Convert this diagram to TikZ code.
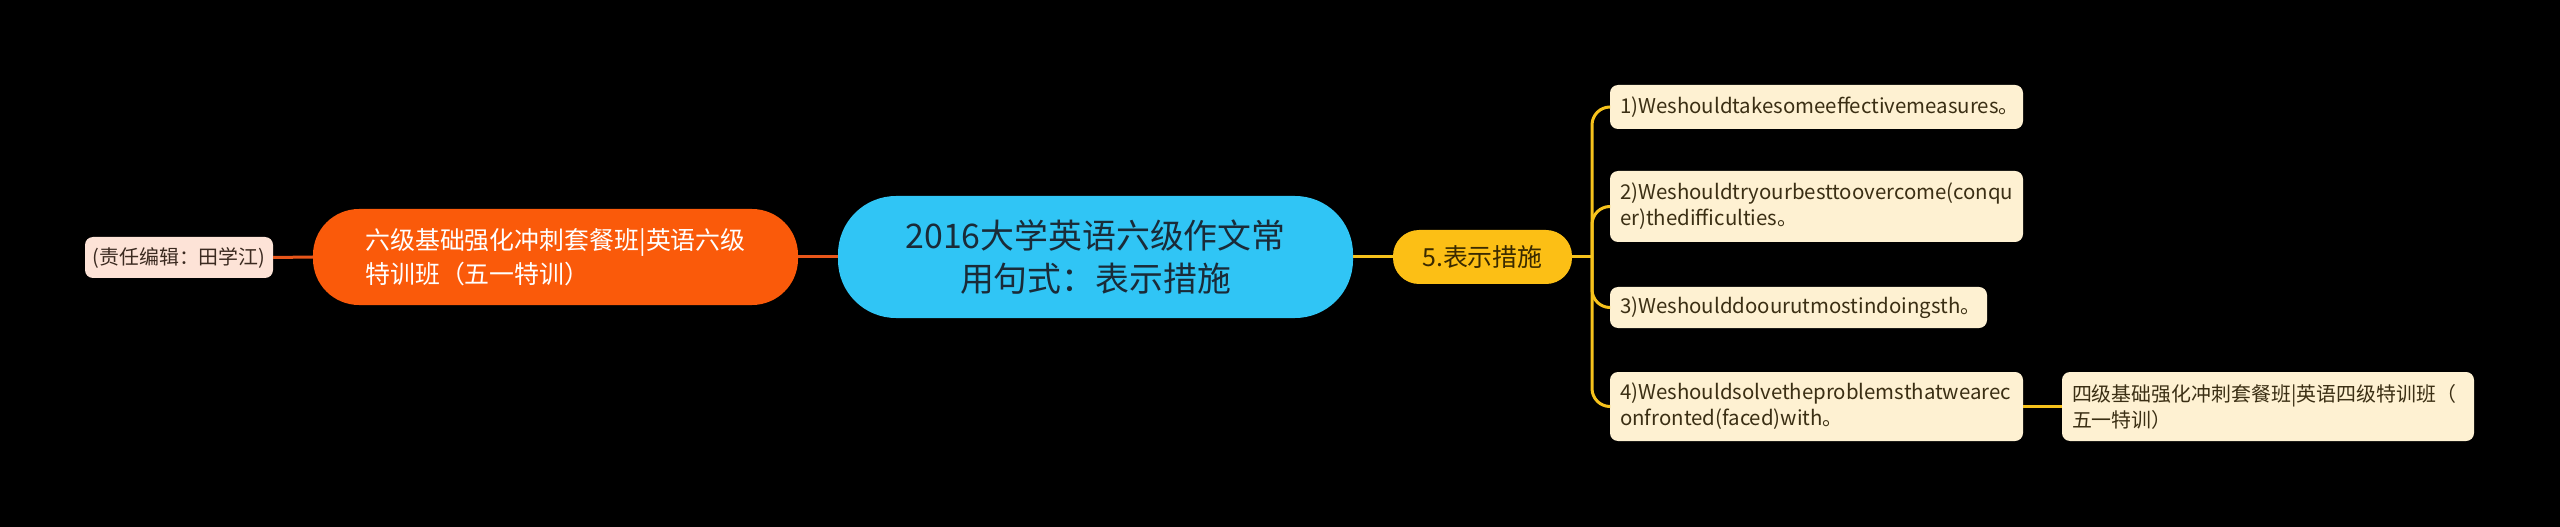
\documentclass[tikz,border=0pt]{standalone}
\usepackage{fontspec}
\setmainfont{Noto Sans CJK SC}
\definecolor{centerfill}{HTML}{30C5F5}
\definecolor{centertext}{HTML}{1A2B38}
\definecolor{orangefill}{HTML}{FA5A0A}
\definecolor{yellowfill}{HTML}{FCBF15}
\definecolor{yellowtext}{HTML}{3A2A00}
\definecolor{leaffill}{HTML}{FEF1D2}
\definecolor{leaftext}{HTML}{3B2F14}
\definecolor{editfill}{HTML}{FDE3D7}
\definecolor{edittext}{HTML}{3B2A20}
\definecolor{orangeline}{HTML}{E8561A}
\definecolor{yellowline}{HTML}{F6C21C}
\begin{document}
\begin{tikzpicture}[x=1bp,y=-1bp,
  centerbox/.style={fill=centerfill, text=centertext, rounded corners=58bp, minimum width=515bp, minimum height=122bp, inner sep=0pt, align=center, font=\fontsize{34}{44}\selectfont},
  orangebox/.style={fill=orangefill, text=white, rounded corners=46bp, minimum width=485bp, minimum height=96bp, inner sep=0pt, align=left, font=\fontsize{25}{34}\selectfont},
  secbox/.style={fill=yellowfill, text=yellowtext, rounded corners=26bp, minimum width=179bp, minimum height=54bp, inner sep=0pt, font=\fontsize{25}{30}\selectfont},
  leafbox/.style={fill=leaffill, text=leaftext, rounded corners=8bp, inner xsep=10bp, inner ysep=0pt, align=flush left, font=\fontsize{20}{26}\selectfont},
  latinleaf/.style={leafbox, font=\fontsize{20.5}{26}\selectfont},
  editbox/.style={fill=editfill, text=edittext, rounded corners=8bp, minimum width=188bp, minimum height=41bp, inner sep=0pt, font=\fontsize{20}{26}\selectfont},
  oline/.style={draw=orangeline, line width=3bp},
  yline/.style={draw=yellowline, line width=3bp}]
\fill[black] (0,0) rectangle (2560,527);
\useasboundingbox (0,0) rectangle (2560,527);

\node[centerbox] (center) at (1095.5,257) {2016大学英语六级作文常\\用句式：表示措施};
\node[orangebox] (orange) at (555.5,257) {六级基础强化冲刺套餐班|英语六级\\特训班（五一特训）};
\node[editbox] (edit) at (179,257.5) {(责任编辑：田学江)};
\node[secbox] (sec) at (1482.5,257) {5.表示措施};

\node[latinleaf, text width=393bp, minimum height=44bp] (l1) at (1816.5,107) {1)Weshouldtakesomeeffectivemeasures。};
\node[latinleaf, text width=393bp, minimum height=71bp] (l2) at (1816.5,206.5) {2)Weshouldtryourbesttoovercome(conqu\\er)thedifficulties。};
\node[latinleaf, text width=357bp, minimum height=41bp] (l3) at (1798.5,307.5) {3)Weshoulddoourutmostindoingsth。};
\node[latinleaf, text width=393bp, minimum height=69bp] (l4) at (1816.5,406.5) {4)Weshouldsolvetheproblemsthatwearec\\onfronted(faced)with。};
\node[leafbox, text width=392bp, minimum height=69bp] (r4) at (2268,406.5) {四级基础强化冲刺套餐班|英语四级特训班（\\五一特训）};

\coordinate (trunk) at (1592,257);

\draw[oline] (edit.east) -- (orange.west);
\draw[oline] (orange.east) -- (center.west);
\draw[yline] (center.east) -- (sec.west);
\draw[yline] (sec.east) -- (trunk);
\foreach \n in {l1,l2,l3,l4}{
  \draw[yline, rounded corners=18bp] (trunk) |- (\n.west);
}
\draw[yline] (l4.east) -- (r4.west);
\end{tikzpicture}
\end{document}
